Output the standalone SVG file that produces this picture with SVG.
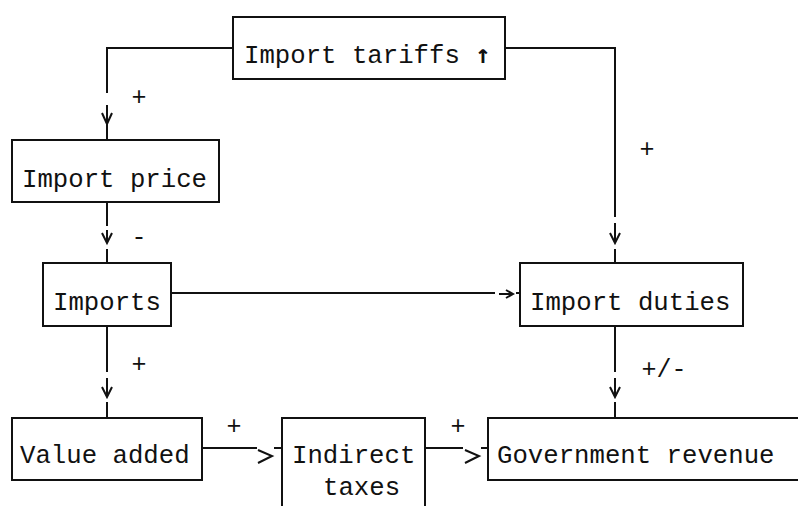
<svg xmlns="http://www.w3.org/2000/svg" width="798" height="506" viewBox="0 0 798 506">
<style>
.box{fill:#fff;stroke:#111;stroke-width:2}
.t{font-family:"Liberation Mono","DejaVu Sans Mono",monospace;font-size:25.7px;fill:#111}
.l{font-family:"Liberation Mono","DejaVu Sans Mono",monospace;font-size:25px;fill:#111;text-anchor:middle}
.c{fill:none;stroke:#111;stroke-width:2}
.arr{font-family:"DejaVu Sans Mono","DejaVu Sans",monospace;font-weight:bold;fill:#111}
</style>
<rect width="798" height="506" fill="#fff"/>
<g id="connectors">
<path class="c" d="M233,48 H107 V93 M107,105 V140 M102,113 L107,124 L112,113"/>
<path class="c" d="M107,202 V226 M107,230 V243 M102,233 L107,243 L112,233 M107,249 V263"/>
<path class="c" d="M505,48 H615 V217 M615,223 V243 M610,233 L615,243 L620,233 M615,249 V263"/>
<path class="c" d="M107,326 V372 M107,378 V397 M102,387 L107,397 L112,387 M107,402 V418"/>
<path class="c" d="M615,326 V372 M615,378 V397 M610,387 L615,397 L620,387 M615,402 V418"/>
<path class="c" d="M171,293 H495 M499,294 H513 M506,290 L513,294 L506,298 M516,293 H520"/>
<path class="c" d="M202,448 H257 M258,450 L272,456 L258,463 M274,448 H282"/>
<path class="c" d="M425,448 H463 M465,450 L479,456 L465,463 M481,448 H488"/>
<text class="l" x="139" y="105">+</text>
<text class="l" x="647" y="157">+</text>
<text class="l" x="139" y="245">-</text>
<text class="l" x="139" y="372">+</text>
<text class="l" x="664" y="377">+/-</text>
<text class="l" x="234" y="434">+</text>
<text class="l" x="458" y="434">+</text>
</g>
<g id="import-tariffs"><rect class="box" x="233" y="17" width="272" height="62"/><text class="t" x="244" y="63">Import tariffs <tspan class="arr">↑</tspan></text></g>
<g id="import-price"><rect class="box" x="12" y="140" width="207" height="62"/><text class="t" x="22" y="187">Import price</text></g>
<g id="imports"><rect class="box" x="43" y="263" width="128" height="63"/><text class="t" x="53" y="310">Imports</text></g>
<g id="import-duties"><rect class="box" x="520" y="263" width="223" height="63"/><text class="t" x="530" y="310">Import duties</text></g>
<g id="value-added"><rect class="box" x="12" y="418" width="190" height="62"/><text class="t" x="20" y="463">Value added</text></g>
<g id="indirect-taxes"><rect class="box" x="282" y="418" width="143" height="110"/><text class="t" x="292" y="463">Indirect</text><text class="t" x="323" y="495">taxes</text></g>
<g id="government-revenue"><rect class="box" x="488" y="418" width="330" height="62"/><text class="t" x="497" y="463">Government revenue</text></g>
</svg>
